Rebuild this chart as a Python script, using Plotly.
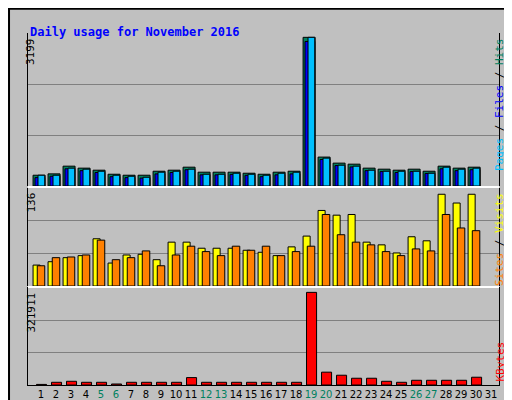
import plotly.graph_objects as go

days = list(range(1, 31))
hits = [232, 261, 427, 384, 340, 253, 232, 232, 318, 340, 405, 297, 297, 297, 275,
        253, 297, 318, 3199, 622, 492, 470, 384, 362, 340, 362, 318, 427, 384, 405]
files = [180, 210, 370, 330, 290, 200, 180, 170, 260, 290, 350, 240, 240, 250, 230,
         200, 240, 260, 3110, 570, 440, 410, 330, 310, 290, 310, 270, 370, 330, 350]
pages = [232, 232, 384, 362, 318, 232, 210, 188, 297, 318, 362, 253, 253, 275, 253,
         232, 275, 297, 3199, 600, 448, 427, 340, 318, 318, 318, 275, 405, 362, 384]
visits = [31, 36, 42, 45, 70, 34, 46, 47, 39, 65, 65, 56, 56, 56, 53,
          50, 45, 58, 74, 112, 105, 106, 65, 61, 49, 73, 67, 136, 123, 136]
sites = [30, 42, 43, 46, 68, 39, 42, 52, 30, 46, 59, 51, 45, 59, 53,
         59, 45, 51, 59, 106, 76, 65, 61, 51, 45, 55, 52, 106, 86, 82]
kbytes = [2000, 9400, 12900, 9400, 9400, 3500, 9400, 9400, 9400, 9400, 25800, 9400, 9400, 9400, 9400,
          9400, 9400, 9400, 321911, 44600, 34000, 23500, 23500, 12900, 9400, 16400, 16400, 16400, 16400, 27000]
weekend = [5, 6, 12, 13, 19, 20, 26, 27]

BG = "#C0C0C0"
line = dict(color="black", width=1)
fig = go.Figure()

def bar(y, color, off, w, ya):
    fig.add_trace(go.Bar(x=days, y=y, marker=dict(color=color, line=line),
                         offset=off, width=w, yaxis=ya, xaxis="x"))

bar(hits, "#00805F", -0.53, 0.8, "y")
bar(files, "#0000FF", -0.4, 0.65, "y")
bar(pages, "#00C0FF", -0.2, 0.45, "y")
bar(visits, "#FFFF00", -0.53, 0.47, "y2")
bar(sites, "#FF8000", -0.25, 0.5, "y2")
bar(kbytes, "#FF0000", -0.3, 0.67, "y3")

r1 = 3199 * 151.7 / 147.4
r2 = 136 * 98.7 / 92.4
r3 = 321911 * 95.7 / 91.4

def yax(r, dom):
    return dict(range=[0, r], domain=dom, tickvals=[r / 3, 2 * r / 3], showticklabels=False,
                showgrid=True, gridcolor="#808080", gridwidth=1, zeroline=False, automargin=False,
                showline=True, linecolor="black", mirror=True, ticks="")

ticktext = [f"<span style='color:#00805F'>{d}</span>" if d in weekend else str(d) for d in range(1, 32)]

def xax(anchor, labels):
    return dict(domain=[20 / 512, 491 / 512], range=[0.133, 31.53], tickvals=list(range(1, 32)),
                ticktext=ticktext, showticklabels=labels, tickangle=0, showgrid=False, zeroline=False,
                anchor=anchor, ticks="", automargin=False, showline=True, linecolor="black", mirror=True,
                tickfont=dict(size=10, family="DejaVu Sans"))

fig.update_layout(
    width=512, height=400, margin=dict(l=0, r=0, t=0, b=0, autoexpand=False),
    paper_bgcolor=BG, plot_bgcolor=BG, showlegend=False, barmode="overlay",
    font=dict(family="DejaVu Sans Mono", size=11, color="black"),
    xaxis=xax("y3", True),
    xaxis2=dict(xax("y2", False), overlaying="x"),
    xaxis3=dict(xax("y", False), overlaying="x"),
    yaxis=yax(r1, [1 - 178 / 400, 1 - 25 / 400]),
    yaxis2=yax(r2, [1 - 278 / 400, 1 - 180 / 400]),
    yaxis3=yax(r3, [1 - 377 / 400, 1 - 280 / 400]),
)

ann = [
    dict(x=20 / 512, y=1 - 15 / 400, text="<b>Daily usage for November 2016</b>", xanchor="left",
         font=dict(color="#0000FF", size=12, family="DejaVu Sans Mono")),
    dict(x=14 / 512, y=1 - 28 / 400, text="3199", textangle=-90, yanchor="top"),
    dict(x=14 / 512, y=1 - 183 / 400, text="136", textangle=-90, yanchor="top"),
    dict(x=14 / 512, y=1 - 283 / 400, text="321911", textangle=-90, yanchor="top"),
    dict(x=500 / 512, y=1 - 28 / 400, yanchor="top", textangle=-90,
         text="<span style='color:#00C0FF'>Pages</span> / <span style='color:#0000FF'>Files</span>"
              " / <span style='color:#00805F'>Hits</span>"),
    dict(x=500 / 512, y=1 - 183 / 400, yanchor="top", textangle=-90,
         text="<span style='color:#FF8000'>Sites</span> / <span style='color:#FFFF00'>Visits</span>"),
    dict(x=500 / 512, y=1 - 376 / 400, yanchor="bottom", textangle=-90,
         text="<span style='color:#FF0000'>KBytes</span>"),
]
for a in ann:
    a.update(xref="paper", yref="paper", showarrow=False)
fig.update_layout(annotations=ann)
fig.add_shape(type="rect", xref="paper", yref="paper", x0=0.002, y0=0.002, x1=0.998, y1=0.998,
              line=dict(color="black", width=2))
fig.add_shape(type="line", xref="paper", yref="paper", x0=20 / 512, x1=491 / 512,
              y0=1 - 179 / 400, y1=1 - 179 / 400, line=dict(color="white", width=2))
fig.add_shape(type="line", xref="paper", yref="paper", x0=20 / 512, x1=491 / 512,
              y0=1 - 279 / 400, y1=1 - 279 / 400, line=dict(color="white", width=2))
fig.write_html("out.html")
